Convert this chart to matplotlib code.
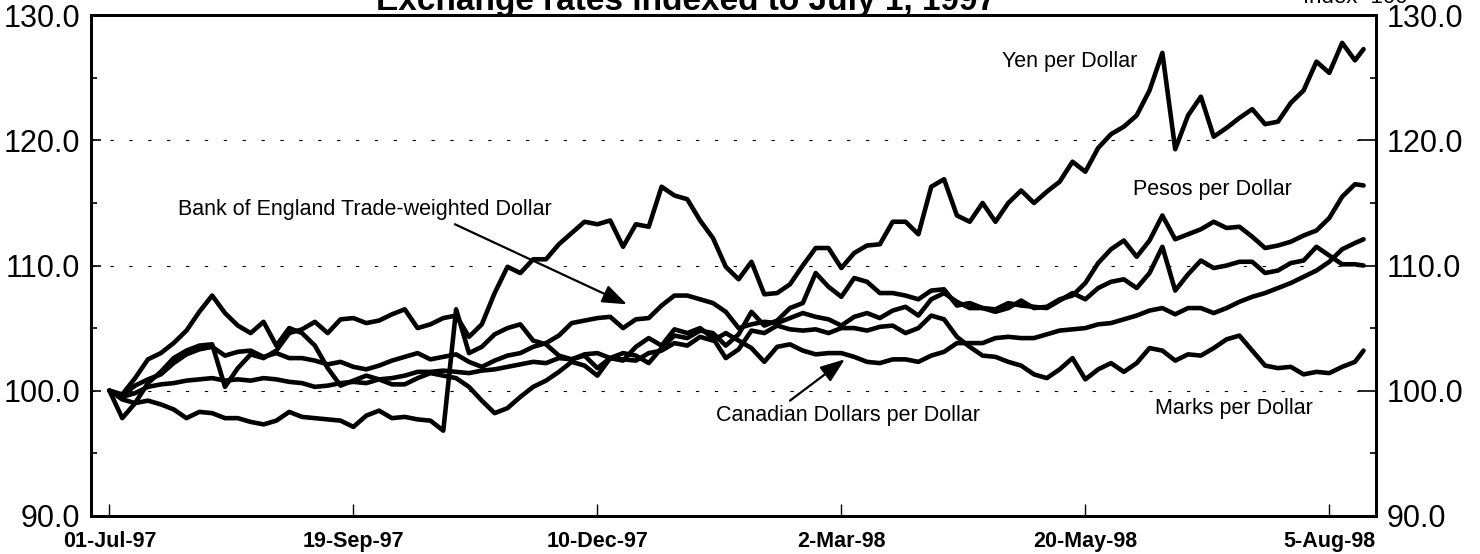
import matplotlib.pyplot as plt
from matplotlib.ticker import MultipleLocator, FormatStrFormatter

plt.rcParams['font.family'] = ['Liberation Sans', 'DejaVu Sans']

# trading-day number since 01-Jul-97 (every 3rd day)
obs = list(range(0, 292, 3)) + [293]

yen = [100.0, 97.8, 99.0, 100.6, 101.5, 102.6, 103.2, 103.6, 103.7, 100.3,
       101.8, 102.9, 102.6, 103.2, 104.6, 104.9, 105.5, 104.6, 105.7, 105.8,
       105.4, 105.6, 106.1, 106.5, 105.0, 105.3, 105.8, 106.0, 104.3, 105.3,
       107.8, 109.9, 109.4, 110.5, 110.5, 111.7, 112.6, 113.5, 113.3, 113.6,
       111.5, 113.3, 113.1, 116.3, 115.6, 115.3, 113.6, 112.2, 109.9, 108.9,
       110.3, 107.7, 107.8, 108.5, 110.0, 111.4, 111.4, 109.8, 111.0, 111.6,
       111.7, 113.5, 113.5, 112.5, 116.3, 116.9, 114.0, 113.5, 115.0, 113.5,
       115.0, 116.0, 115.0, 115.9, 116.7, 118.3, 117.5, 119.4, 120.5, 121.1,
       122.0, 124.0, 127.0, 119.3, 122.0, 123.5, 120.3, 121.0, 121.8, 122.5,
       121.3, 121.5, 123.0, 124.0, 126.3, 125.4, 127.8, 126.4, 127.3]

pesos = [100.0, 99.3, 99.0, 99.2, 98.9, 98.5, 97.8, 98.3, 98.2, 97.8,
         97.8, 97.5, 97.3, 97.6, 98.3, 97.9, 97.8, 97.7, 97.6, 97.1,
         98.0, 98.4, 97.8, 97.9, 97.7, 97.6, 96.8, 106.5, 103.0, 103.5,
         104.5, 105.0, 105.3, 104.0, 103.7, 102.8, 102.5, 102.8, 101.8, 102.6,
         103.0, 102.8, 102.2, 103.4, 104.4, 104.2, 104.8, 104.6, 103.6, 104.5,
         106.3, 105.2, 105.6, 106.6, 107.0, 109.4, 108.3, 107.5, 109.0, 108.7,
         107.8, 107.8, 107.6, 107.3, 108.0, 108.1, 106.8, 107.0, 106.6, 106.3,
         106.6, 107.2, 106.6, 106.7, 107.3, 107.6, 108.6, 110.2, 111.3, 112.0,
         110.7, 112.0, 114.0, 112.1, 112.5, 112.9, 113.5, 113.0, 113.1, 112.3,
         111.4, 111.6, 111.9, 112.4, 112.8, 113.8, 115.5, 116.5, 116.4]

trade_weighted = [100.0, 99.6, 100.4, 100.9, 101.3, 102.2, 102.9, 103.3, 103.5, 102.8,
                  103.1, 103.2, 102.7, 103.0, 102.6, 102.6, 102.4, 102.1, 102.3, 101.9,
                  101.7, 102.0, 102.4, 102.7, 103.0, 102.5, 102.7, 102.9, 102.3, 101.9,
                  102.4, 102.8, 103.0, 103.5, 103.8, 104.4, 105.4, 105.6, 105.8, 105.9,
                  105.0, 105.7, 105.8, 106.8, 107.6, 107.6, 107.3, 107.0, 106.3, 105.0,
                  105.3, 105.5, 105.4, 105.8, 106.2, 105.9, 105.7, 105.2, 105.9, 106.2,
                  105.8, 106.4, 106.7, 106.0, 107.3, 107.8, 107.1, 106.6, 106.6, 106.5,
                  107.0, 106.8, 106.7, 106.6, 107.2, 107.8, 107.3, 108.2, 108.7, 108.9,
                  108.2, 109.4, 111.5, 108.0, 109.3, 110.4, 109.8, 110.0, 110.3, 110.3,
                  109.4, 109.6, 110.2, 110.4, 111.5, 110.8, 110.1, 110.1, 110.0]

canadian = [100.0, 99.5, 99.8, 100.3, 100.5, 100.6, 100.8, 100.9, 101.0, 100.8,
            100.9, 100.8, 101.0, 100.9, 100.7, 100.6, 100.3, 100.4, 100.6, 100.7,
            100.6, 100.9, 101.0, 101.2, 101.5, 101.5, 101.6, 101.5, 101.4, 101.6,
            101.7, 101.9, 102.1, 102.3, 102.2, 102.6, 102.5, 102.9, 103.0, 102.6,
            102.5, 102.4, 103.0, 103.2, 103.8, 103.6, 104.3, 104.0, 104.6, 104.0,
            103.4, 102.3, 103.5, 103.7, 103.2, 102.9, 103.0, 103.0, 102.7, 102.3,
            102.2, 102.5, 102.5, 102.3, 102.8, 103.1, 103.8, 103.8, 103.8, 104.2,
            104.3, 104.2, 104.2, 104.5, 104.8, 104.9, 105.0, 105.3, 105.4, 105.7,
            106.0, 106.4, 106.6, 106.1, 106.6, 106.6, 106.2, 106.6, 107.1, 107.5,
            107.8, 108.2, 108.6, 109.1, 109.6, 110.3, 111.3, 111.8, 112.1]

marks = [100.0, 99.7, 101.0, 102.5, 103.0, 103.8, 104.8, 106.3, 107.6, 106.2,
         105.2, 104.6, 105.5, 103.6, 105.0, 104.6, 103.6, 101.8, 100.4, 100.8,
         101.2, 100.9, 100.5, 100.5, 101.0, 101.4, 101.2, 101.0, 100.3, 99.2,
         98.2, 98.6, 99.5, 100.3, 100.8, 101.5, 102.3, 102.0, 101.2, 102.6,
         102.4, 103.5, 104.2, 103.6, 104.9, 104.6, 105.0, 104.2, 102.6, 103.3,
         104.8, 104.6, 105.2, 104.9, 104.8, 104.9, 104.6, 105.0, 105.0, 104.8,
         105.1, 105.2, 104.6, 105.0, 106.0, 105.7, 104.3, 103.5, 102.8, 102.7,
         102.3, 102.0, 101.3, 101.0, 101.7, 102.6, 100.9, 101.7, 102.2, 101.5,
         102.2, 103.4, 103.2, 102.4, 102.9, 102.8, 103.4, 104.1, 104.4, 103.2,
         102.0, 101.8, 101.9, 101.3, 101.5, 101.4, 101.9, 102.3, 103.2]

tick_obs = [0, 57, 114, 171, 228, 285]
tick_labels = ["01-Jul-97", "19-Sep-97", "10-Dec-97", "2-Mar-98", "20-May-98", "5-Aug-98"]
y_ticks = [90, 100, 110, 120, 130]

fig = plt.figure(figsize=(14.8, 5.54), dpi=100)
ax = fig.add_axes([0.0615, 0.0691, 0.8682, 0.9032])

for series in [canadian, marks, trade_weighted, pesos, yen]:
    ax.plot(obs, series, color='black', lw=3.3, solid_joinstyle='round', solid_capstyle='round')

ax.set_xlim(-4.3, 295.9)
ax.set_ylim(90, 130)
ax.set_xticks(tick_obs)
ax.set_xticklabels(tick_labels, fontsize=15.5, fontweight='bold')
ax.set_yticks(y_ticks)
ax.yaxis.set_minor_locator(MultipleLocator(5))
ax.yaxis.set_major_formatter(FormatStrFormatter('%.1f'))
ax.tick_params(axis='x', direction='in', length=9, width=1, pad=11, top=False)
ax.tick_params(axis='y', which='major', direction='in', length=7, width=1.2, labelsize=22, pad=8)
ax.tick_params(axis='y', which='minor', direction='in', length=4, width=1.2)
ax.grid(axis='y', color='black', lw=0.8, linestyle=(0, (3, 14)))

ax2 = ax.twinx()
ax2.set_ylim(90, 130)
ax2.set_yticks(y_ticks)
ax2.yaxis.set_minor_locator(MultipleLocator(5))
ax2.yaxis.set_major_formatter(FormatStrFormatter('%.1f'))
ax2.tick_params(axis='y', which='major', direction='in', length=13, width=1.2, labelsize=22, pad=8)
ax2.tick_params(axis='y', which='minor', direction='in', length=4, width=1.2)

for a in (ax, ax2):
    for s in a.spines.values():
        s.set_linewidth(2.0)

ax.text(224.4, 125.9, "Yen per Dollar", fontsize=15.5, ha='center', va='baseline')
ax.text(257.6, 115.6, "Pesos per Dollar", fontsize=15.5, ha='center', va='baseline')
ax.text(59.7, 114.0, "Bank of England Trade-weighted Dollar", fontsize=15.5, ha='center', va='baseline')
ax.text(172.5, 97.6, "Canadian Dollars per Dollar", fontsize=15.5, ha='center', va='baseline')
ax.text(262.7, 98.1, "Marks per Dollar", fontsize=15.5, ha='center', va='baseline')

arrow = dict(arrowstyle='-|>,head_length=0.75,head_width=0.28', color='black', lw=1.6,
             mutation_scale=20, shrinkA=0, shrinkB=0)
ax.annotate('', xy=(120.9, 106.9), xytext=(80.7, 113.3), arrowprops=arrow)
ax.annotate('', xy=(171.8, 102.5), xytext=(159.0, 99.2), arrowprops=arrow)

# title and note sit partly above the top edge, as in the scanned original
fig.text(0.4635, 1 - 10 / 554, "Exchange rates indexed to July 1, 1997",
         fontsize=24, fontweight='bold', ha='center', va='baseline')
fig.text(0.9155, 1 - 3 / 554, "Index=100", fontsize=16, ha='center', va='baseline')

fig.savefig('out.png', dpi=100)
